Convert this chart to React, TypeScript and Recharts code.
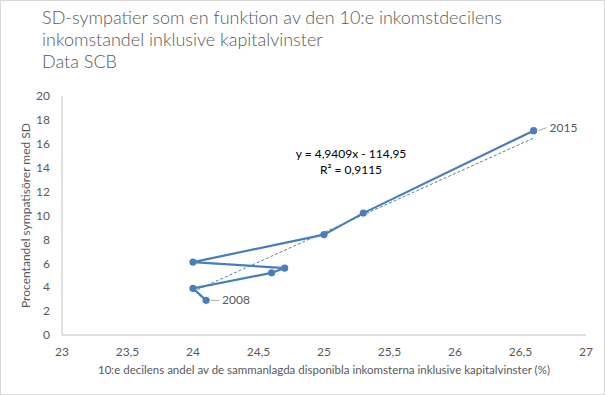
import React from "react";
import {
  Scatter,
  ScatterChart,
  XAxis,
  YAxis,
  LabelList,
} from "recharts";

// Year labels, x = 10:e decilens andel (%), y = procent SD-sympatisörer
const years = [2008, 2009, 2010, 2011, 2012, 2013, 2014, 2015];
const incomeShare = [24.1, 24.0, 24.6, 24.7, 24.0, 25.0, 25.3, 26.6];
const sdShare = [2.9, 3.9, 5.2, 5.6, 6.1, 8.4, 10.2, 17.1];

// linear trendline shown in the chart: y = 4,9409x - 114,95
const trendSlope = 4.9409;
const trendIntercept = -114.95;
const trendX = [24.0, 26.6];

const xTicks = [23, 23.5, 24, 24.5, 25, 25.5, 26, 26.5, 27];
const yTicks = [0, 2, 4, 6, 8, 10, 12, 14, 16, 18, 20];

const points = years.map((year, i) => ({
  year,
  x: incomeShare[i],
  y: sdShare[i],
}));

const trend = trendX.map((x) => ({ x, y: trendSlope * x + trendIntercept }));

const BLUE = "#4a7ebb";
const GREY = "#595959";
const FONT = "Lato, 'Open Sans', sans-serif";

const fmt = (v: number) => String(v).replace(".", ",");

const Dot = (props: any) => (
  <circle cx={props.cx} cy={props.cy} r={3.6} fill={BLUE} />
);

const YearLabel = (props: any) => {
  const { x, y, width, height, value } = props;
  if (value !== 2008 && value !== 2015) return null;
  const cx = x + width / 2;
  const cy = y + height / 2;
  const up = value === 2015 ? -3 : 0;
  return (
    <g>
      <line x1={cx + 5} y1={cy} x2={cx + 13} y2={cy + up} stroke="#a6a6a6" strokeWidth={1} />
      <text x={cx + 16} y={cy + up} dy={4} fill={GREY} fontSize={12} fontFamily={FONT}>
        {value}
      </text>
    </g>
  );
};

export default function App() {
  return (
    <div
      style={{
        position: "absolute",
        left: 0,
        top: 0,
        width: 603,
        height: 393,
        border: "1px solid #d9d9d9",
        background: "#fff",
        fontFamily: FONT,
      }}
    >
      <div
        style={{
          position: "absolute",
          left: 41,
          top: 5,
          fontSize: 18,
          lineHeight: "22px",
          color: GREY,
          fontWeight: 300,
        }}
      >
        SD-sympatier som en funktion av den 10:e inkomstdecilens
        <br />
        inkomstandel inklusive kapitalvinster
        <br />
        Data SCB
      </div>
      <ScatterChart
        width={603}
        height={393}
        margin={{ top: 95, right: 18, bottom: 19, left: 21 }}
      >
        <XAxis
          type="number"
          dataKey="x"
          domain={[23, 27]}
          ticks={xTicks}
          tickFormatter={fmt}
          tickLine={false}
          axisLine={{ stroke: "#bfbfbf" }}
          tick={{ fill: GREY, fontSize: 12, fontFamily: FONT }}
          tickMargin={6}
          height={40}
          label={{
            value:
              "10:e decilens andel av de sammanlagda disponibla inkomsterna inklusive kapitalvinster (%)",
            position: "insideBottom",
            offset: 1,
            fill: GREY,
            fontSize: 11.5,
            fontFamily: FONT,
          }}
        />
        <YAxis
          type="number"
          dataKey="y"
          domain={[0, 20]}
          ticks={yTicks}
          tickLine={false}
          axisLine={{ stroke: "#bfbfbf" }}
          tick={{ fill: GREY, fontSize: 12, fontFamily: FONT }}
          tickMargin={6}
          width={40}
          label={{
            value: "Procentandel sympatisörer med SD",
            angle: -90,
            position: "insideLeft",
            offset: 0,
            dx: 4,
            style: { textAnchor: "middle" },
            fill: GREY,
            fontSize: 12,
            fontFamily: FONT,
          }}
        />
        <Scatter
          data={trend}
          line={{ stroke: BLUE, strokeWidth: 1, strokeDasharray: "3 2" }}
          shape={() => <g />}
          isAnimationActive={false}
        />
        <Scatter
          data={points}
          line={{ stroke: BLUE, strokeWidth: 2.2 }}
          shape={Dot}
          isAnimationActive={false}
        >
          <LabelList dataKey="year" content={YearLabel} />
        </Scatter>
      </ScatterChart>
      <div
        style={{
          position: "absolute",
          left: 280,
          top: 145,
          width: 140,
          textAlign: "center",
          fontSize: 12,
          lineHeight: "16px",
          color: "#000",
        }}
      >
        y = 4,9409x - 114,95
        <br />
        R² = 0,9115
      </div>
    </div>
  );
}
